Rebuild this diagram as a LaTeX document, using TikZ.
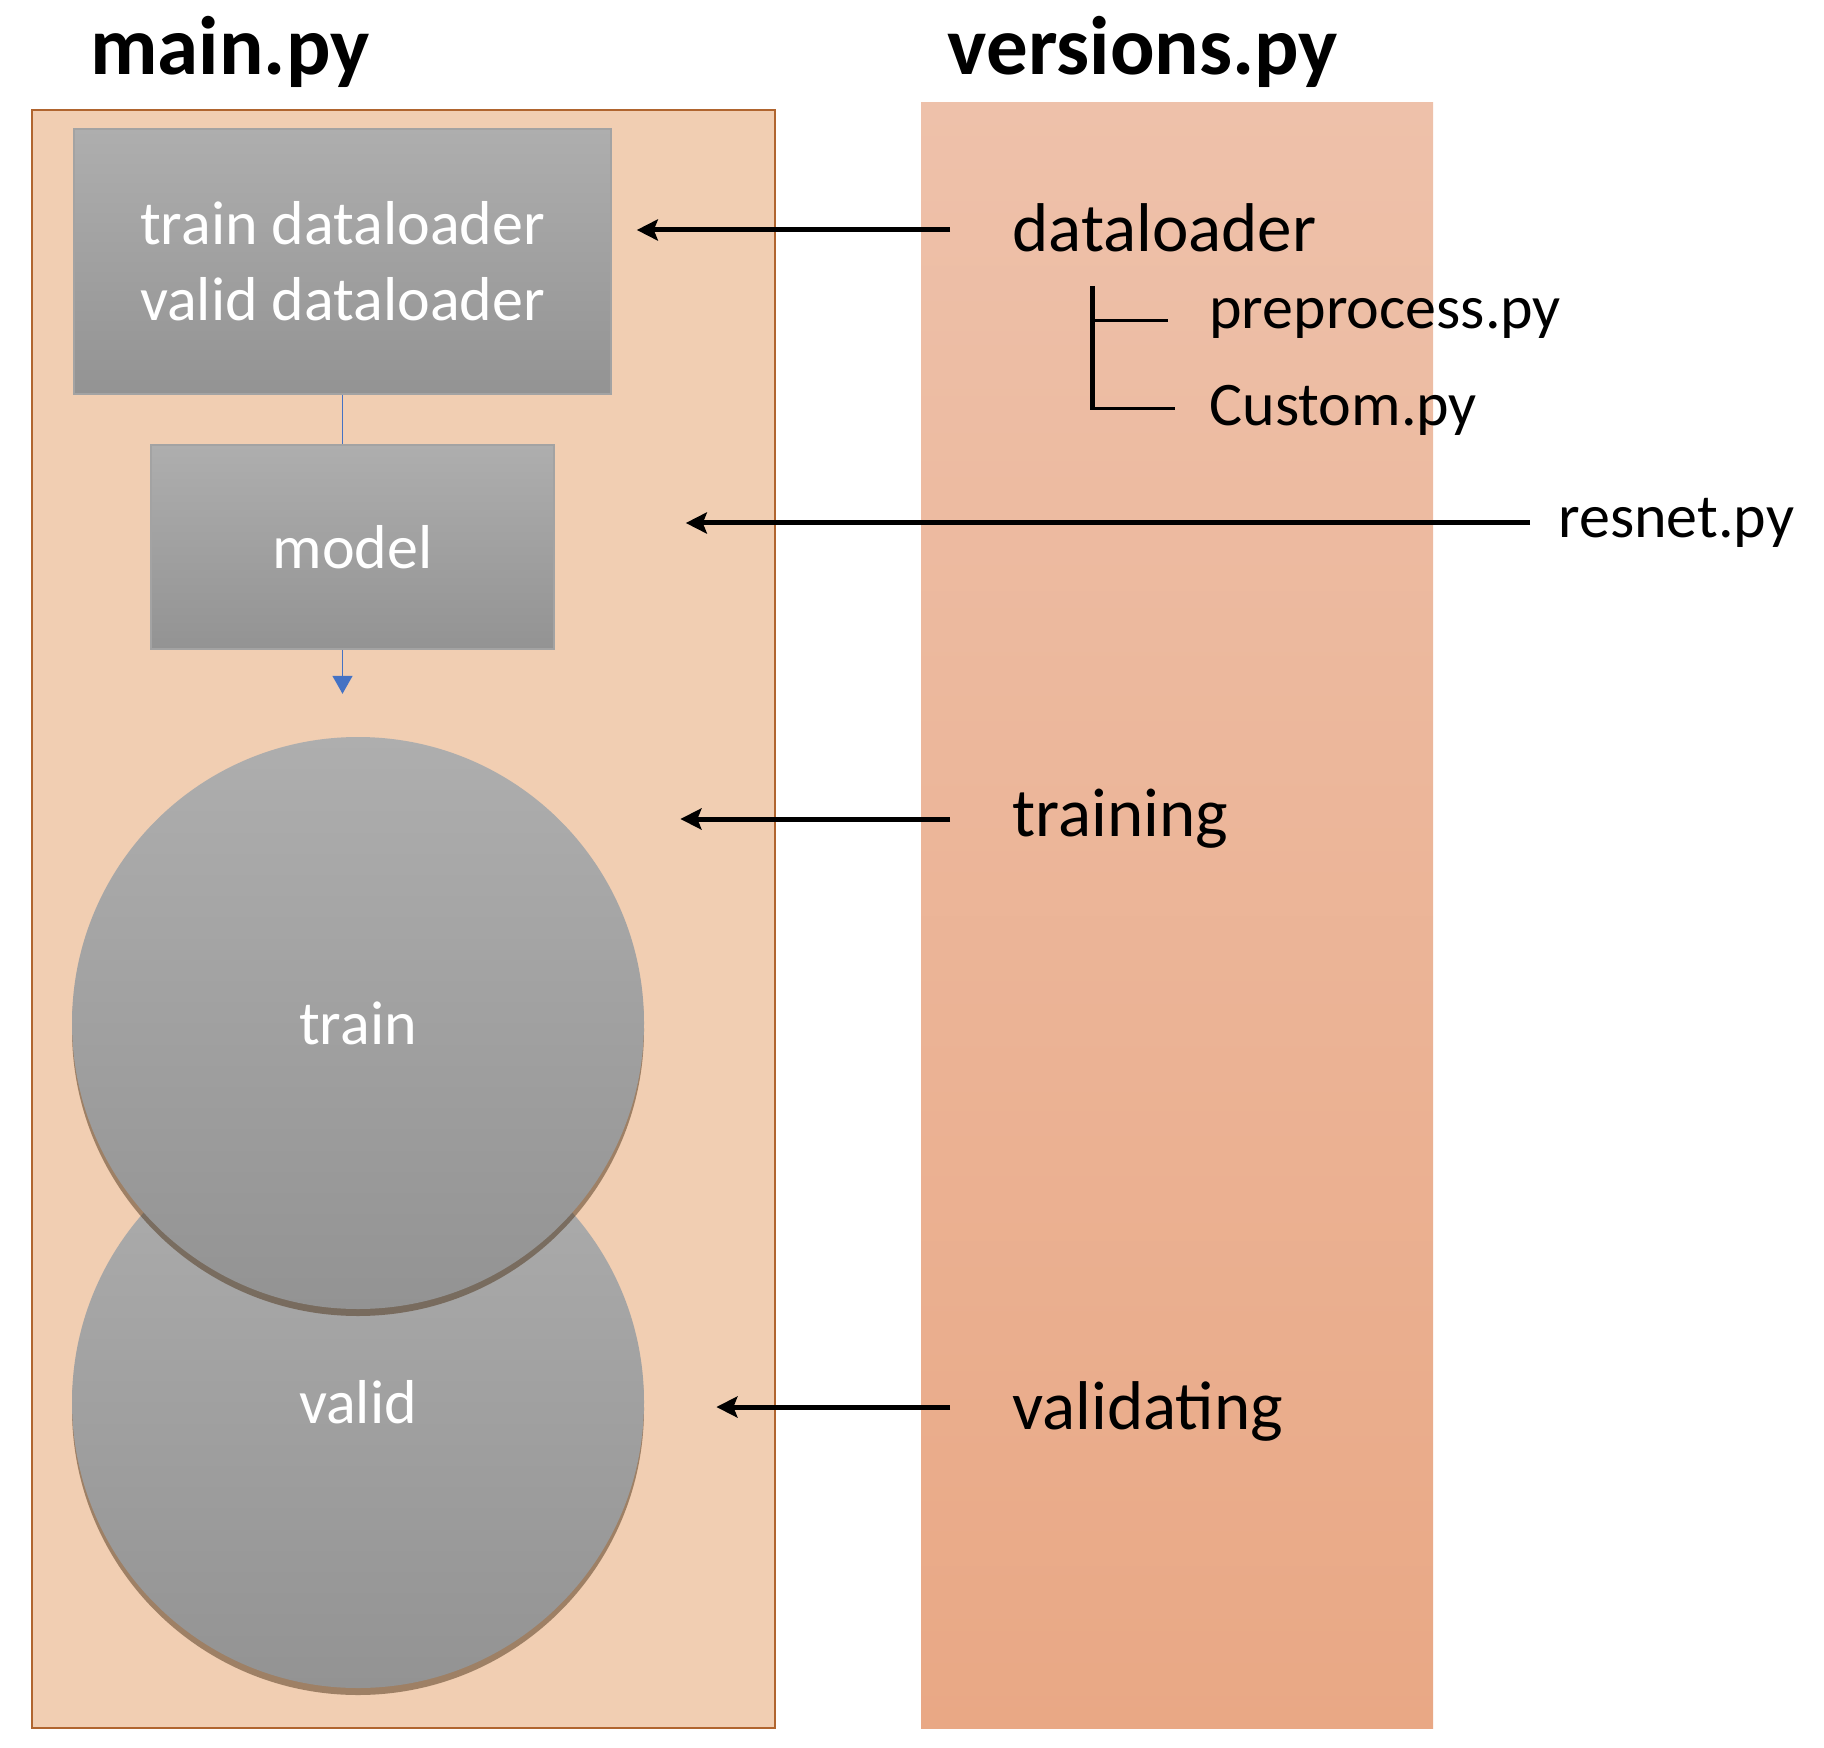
\documentclass[tikz,border=0pt]{standalone}
\usepackage{fontspec}
\setmainfont{Carlito}
\usetikzlibrary{positioning}
\usetikzlibrary{arrows.meta}
\usetikzlibrary{calc}
\usetikzlibrary{shadows}

\definecolor{panelfill}{HTML}{F1CEB2}
\definecolor{paneledge}{HTML}{B0652F}
\definecolor{vertop}{HTML}{EEC1AA}
\definecolor{verbot}{HTML}{E9A885}
\definecolor{boxtop}{HTML}{AEAEAE}
\definecolor{boxbot}{HTML}{939393}
\definecolor{boxedge}{HTML}{A3A3A3}
\definecolor{linkblue}{HTML}{4472C4}

\tikzset{
  title/.style={font=\bfseries\fontsize{41.5}{50}\selectfont, anchor=base, inner sep=0pt},
  block/.style={rectangle, draw=boxedge, line width=0.8pt, top color=boxtop, bottom color=boxbot,
    text=white, font=\fontsize{31}{38}\selectfont, align=center},
  stage/.style={circle, top color=boxtop, bottom color=boxbot, text=white,
    font=\fontsize{31}{38}\selectfont, minimum size=286pt, inner sep=0pt,
    drop shadow={shadow xshift=0pt, shadow yshift=-3.5pt, fill=black!60!brown, opacity=0.5}},
  part/.style={font=\fontsize{34.5}{40}\selectfont, anchor=base west, inner sep=0pt,
    text height=22pt, text depth=0pt},
  subpart/.style={font=\fontsize{31}{38}\selectfont, anchor=base west, inner sep=0pt},
  feed/.style={-{Stealth[length=10.5pt,width=10.5pt,inset=2pt]}, line width=2.5pt},
  trunk/.style={line width=2.5pt},
  twig/.style={line width=1.5pt},
  flow/.style={draw=linkblue, line width=0.7pt}
}

\begin{document}
\begin{tikzpicture}[x=0.5pt,y=-0.5pt]
        \useasboundingbox (0,0) rectangle (1824,1748);

        % the two files
        \draw[paneledge, fill=panelfill, line width=1pt] (32,110) rectangle (775,1728);
        \shade[top color=vertop, bottom color=verbot] (921,103) rectangle (1433,1728);
        \node[title] (maintitle) at (230,75) {main.py};
        \node[title] (vertitle) at (1143,75) {versions.py};

        % main.py
        \node[block, minimum width=268.5pt, minimum height=132.5pt] (loaders) at (342.5,261.5) {train dataloader\\valid dataloader};
        \node[block, minimum width=201.5pt, minimum height=102pt] (model) at (352.5,547) {model};
        \draw[flow] (loaders.south) -- (loaders.south |- model.north);
        \draw[flow, -{Triangle[length=9pt,width=10pt]}] (loaders.south |- model.south) -- ++(0,44);

        \node[stage] (valid) at (358,1402) {valid};
        \node[stage] (train) at (358,1023) {train};

        % versions.py
        \node[part] (dl) at (1012,252) {dataloader};
        \node[subpart] (pre) at (1209,329) {preprocess.py};
        \node[subpart] (cust) at (1209,426) {Custom.py};
        \node[subpart] (res) at (1558,538) {resnet.py};
        \node[part] (trn) at (1012,836) {training};
        \node[part] (val) at (1012,1429) {validating};

        \coordinate (fork) at ($(dl.base west)+(80,34)$);
        \draw[trunk] (fork) -- ($(fork |- cust.base west)+(0,-17)$);
        \draw[twig] ($(fork |- cust.base west)+(-2,-17)$) -- ($(cust.base west)+(-34,-17)$);
        \draw[twig] ($(fork |- pre.base west)+(0,-8)$) -- ($(pre.base west)+(-41,-8)$);

        \draw[feed] ($(dl.west)+(-62,0)$) -- ($(loaders.east |- dl.west)+(25,0)$);
        \draw[feed] ($(res.base west)+(-28,-15)$) -- ($(model.east |- res.base west)+(131,-15)$);
        \draw[feed] ($(trn.west)+(-62,5)$) -- ($(train.east |- trn.west)+(36,5)$);
        \draw[feed] ($(val.west)+(-62,0)$) -- ($(valid.east |- val.west)+(72,0)$);

    \end{tikzpicture}
\end{document}
